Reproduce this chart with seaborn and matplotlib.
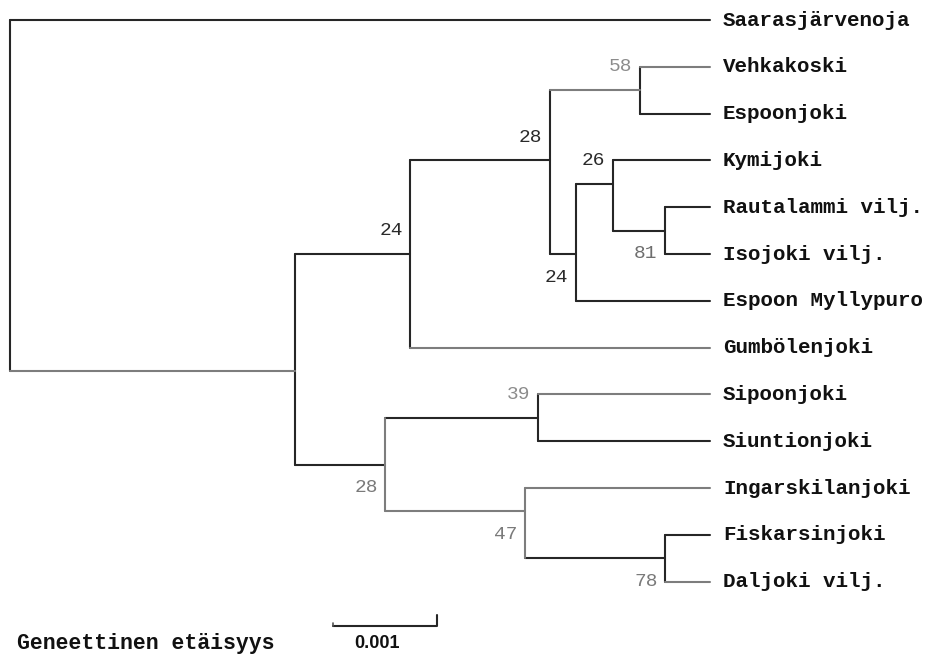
import matplotlib
matplotlib.use("Agg")
import matplotlib.pyplot as plt
import seaborn as sns
import pandas as pd

# ---- tree data -------------------------------------------------------------
# Populations (leaves), listed top to bottom
leaves = [
    "Saarasjärvenoja", "Vehkakoski", "Espoonjoki", "Kymijoki",
    "Rautalammi vilj.", "Isojoki vilj.", "Espoon Myllypuro", "Gumbölenjoki",
    "Sipoonjoki", "Siuntionjoki", "Ingarskilanjoki", "Fiskarsinjoki",
    "Daljoki vilj.",
]
leaf_distance = 0.00673  # genetic distance from the root to every leaf

# Internal nodes: name, distance from root, vertical position (row units)
node_names = ["root", "B", "C", "D", "E", "F", "G", "H", "I", "J", "K", "L"]
node_distance = [0.0, 0.00274, 0.00385, 0.00519, 0.00606, 0.00544,
                 0.00580, 0.00630, 0.00361, 0.00508, 0.00495, 0.00630]
node_rows = [3.75, 7.5, 5.0, 3.0, 1.5, 5.0, 3.5, 4.5, 9.5, 8.5, 10.5, 11.5]

children = {
    "root": ["Saarasjärvenoja", "B"],
    "B": ["C", "I"],
    "C": ["D", "Gumbölenjoki"],
    "D": ["E", "F"],
    "E": ["Vehkakoski", "Espoonjoki"],
    "F": ["G", "Espoon Myllypuro"],
    "G": ["Kymijoki", "H"],
    "H": ["Rautalammi vilj.", "Isojoki vilj."],
    "I": ["J", "K"],
    "J": ["Sipoonjoki", "Siuntionjoki"],
    "K": ["Ingarskilanjoki", "L"],
    "L": ["Fiskarsinjoki", "Daljoki vilj."],
}

# Bootstrap support values at the internal nodes
support_nodes = ["E", "D", "C", "G", "H", "F", "J", "I", "K", "L"]
support_values = [58, 28, 24, 26, 81, 24, 39, 28, 47, 78]

scale_length = 0.001
scale_label = "0.001"
axis_title = "Geneettinen etäisyys"

# ---- layout & style ----------------------------------------------------------
PX_PER_DIST = 104 / 0.001   # pixels per unit of genetic distance
ROW_PX = 46.8               # pixels between leaf rows
TOP_PX = 20                 # pixel position of the first leaf row
LEFT_PX = 10                # pixel position of the root

support_row = {"E": 1.0, "D": 2.5, "C": 4.5, "G": 3.0, "H": 5.0, "F": 5.5,
               "J": 8.0, "I": 10.0, "K": 11.0, "L": 12.0}
support_tone = {"E": "#8c8c8c", "D": "#2a2a2a", "C": "#2a2a2a", "G": "#2a2a2a",
                "H": "#6e6e6e", "F": "#2a2a2a", "J": "#8c8c8c", "I": "#7a7a7a",
                "K": "#7a7a7a", "L": "#7a7a7a"}
grey_branches = {("root", "B"), ("D", "E"), ("E", "Vehkakoski"),
                 ("C", "Gumbölenjoki"), ("J", "Sipoonjoki"), ("I", "K"),
                 ("K", "Ingarskilanjoki"), ("L", "Daljoki vilj."), "K", "I"}
palette = {"dark": "#262626", "grey": "#7d7d7d"}

# ---- build segments ----------------------------------------------------------
dist = {n: d for n, d in zip(node_names, node_distance)}
row = {n: r for n, r in zip(node_names, node_rows)}
for i, leaf in enumerate(leaves):
    dist[leaf] = leaf_distance
    row[leaf] = float(i)

records = []
seg = 0
for parent, kids in children.items():
    ys = [row[k] for k in kids]
    tone = "grey" if parent in grey_branches else "dark"
    for y in (min(ys), max(ys)):
        records.append({"seg": seg, "x": dist[parent], "y": y, "tone": tone})
    seg += 1
    for k in kids:
        tone = "grey" if (parent, k) in grey_branches else "dark"
        for x in (dist[parent], dist[k]):
            records.append({"seg": seg, "x": x, "y": row[k], "tone": tone})
        seg += 1
segments = pd.DataFrame(records)

# ---- figure ------------------------------------------------------------------
sns.set_theme(style="white")
fig = plt.figure(figsize=(9.29, 6.70), dpi=100)
fig.patch.set_facecolor("white")
ax = fig.add_axes([0, 0, 1, 1])

sns.lineplot(data=segments, x="x", y="y", units="seg", estimator=None,
             sort=False, hue="tone", palette=palette, legend=False,
             linewidth=1.5, ax=ax)

ax.set_xlim(-LEFT_PX / PX_PER_DIST, (929 - LEFT_PX) / PX_PER_DIST)
ax.set_ylim((670 - TOP_PX) / ROW_PX, -TOP_PX / ROW_PX)
ax.axis("off")

# leaf names
for leaf in leaves:
    ax.annotate(leaf, (dist[leaf], row[leaf]), xytext=(9.5, 0),
                textcoords="offset points", ha="left", va="center",
                fontfamily="Liberation Mono", fontweight="bold",
                fontsize=15, color="#111111")

# support values
for node, val in zip(support_nodes, support_values):
    ax.annotate(str(val), (dist[node], support_row[node]), xytext=(-5.5, 0),
                textcoords="offset points", ha="right", va="center",
                fontfamily="Liberation Mono", fontsize=14,
                color=support_tone[node])

# scale bar
bar_x0 = (333 - LEFT_PX) / PX_PER_DIST
bar_row = (626 - TOP_PX) / ROW_PX
tick_row = (615 - TOP_PX) / ROW_PX
scale_bar = pd.DataFrame({
    "x": [bar_x0, bar_x0 + scale_length, bar_x0 + scale_length],
    "y": [bar_row, bar_row, tick_row],
})
sns.lineplot(data=scale_bar, x="x", y="y", estimator=None, sort=False,
             color="#262626", linewidth=1.5, ax=ax)
ax.plot([bar_x0, bar_x0], [bar_row, bar_row - 0.06], color="#555555", lw=1.2)

ax.text(bar_x0 + 0.42 * scale_length, (643 - TOP_PX) / ROW_PX, scale_label,
        ha="center", va="center", fontfamily="Liberation Sans",
        fontweight="bold", fontsize=13, color="#111111")
ax.text((17 - LEFT_PX) / PX_PER_DIST, (644 - TOP_PX) / ROW_PX, axis_title,
        ha="left", va="center", fontfamily="Liberation Mono",
        fontweight="bold", fontsize=15.5, color="#111111")

fig.savefig("out.png", dpi=100, facecolor="white")
